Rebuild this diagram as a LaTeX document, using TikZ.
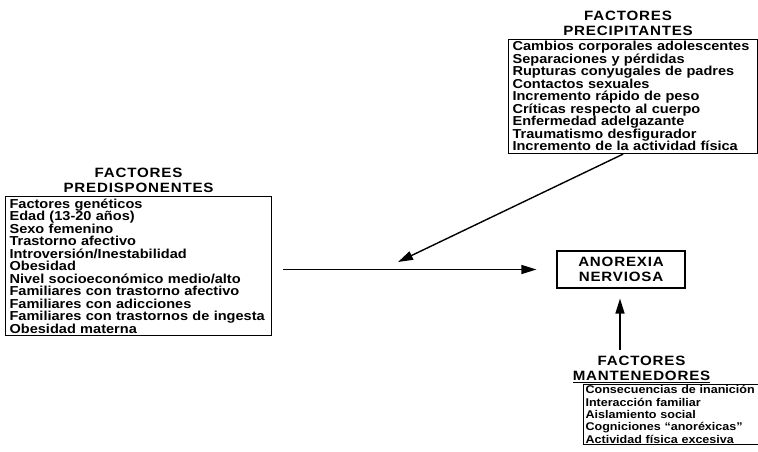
\documentclass[tikz,border=0pt]{standalone}
\usepackage{fontspec}
\usepackage{tikz}
\usetikzlibrary{positioning,calc,arrows.meta}
\newfontfamily\diagfam{Liberation Sans}[FakeStretch=1.12]
\newfontfamily\titlefam{Liberation Sans}[FakeStretch=1.12,LetterSpace=6]
\newcommand{\itemfont}{\diagfam\bfseries\fontsize{13}{12.5}\selectfont}
\newcommand{\smallitemfont}{\diagfam\bfseries\fontsize{11.2}{12.4}\selectfont}
\newcommand{\titlefont}{\titlefam\bfseries\fontsize{13.5}{15.5}\selectfont}

\begin{document}
\begin{tikzpicture}[x=1pt, y=-1pt,
  factbox/.style={draw, line width=1.1pt, anchor=north west, align=left, inner xsep=4pt, inner ysep=2pt, font=\itemfont},
  facttitle/.style={align=center, inner sep=0pt, font=\titlefont},
  flecha/.style={line width=1.4pt, -{Triangle[length=15pt,width=9pt]}}]
  \useasboundingbox (0,0) rectangle (758,452);

  % Factores predisponentes (left)
  \node[factbox, text width=258pt] (predis) at (5,196) {Factores genéticos\\
    Edad (13-20 años)\\
    Sexo femenino\\
    Trastorno afectivo\\
    Introversión/Inestabilidad\\
    Obesidad\\
    Nivel socioeconómico medio/alto\\
    Familiares con trastorno afectivo\\
    Familiares con adicciones\\
    Familiares con trastornos de ingesta\\
    Obesidad materna};
  \node[facttitle, above=3pt of predis] (tpredis) {FACTORES\\PREDISPONENTES};

  % Factores precipitantes (top right)
  \node[factbox, text width=241pt] (precip) at (508,39) {Cambios corporales adolescentes\\
    Separaciones y pérdidas\\
    Rupturas conyugales de padres\\
    Contactos sexuales\\
    Incremento rápido de peso\\
    Críticas respecto al cuerpo\\
    Enfermedad adelgazante\\
    Traumatismo desfigurador\\
    Incremento de la actividad física};
  \node[facttitle, above=3pt of precip, xshift=-5pt] (tprecip) {FACTORES\\PRECIPITANTES};

  % Anorexia nerviosa (centre)
  \node[draw, line width=1.1pt, minimum width=128pt, minimum height=37pt, font=\titlefont, align=center] (anorexia) at (621,269.5) {ANOREXIA\\NERVIOSA};

  % Factores mantenedores (bottom right)
  \node[factbox, font=\smallitemfont, inner xsep=2pt, inner ysep=1pt, text width=172pt] (mant) at (583,384) {Consecuencias de inanición\\
    Interacción familiar\\
    Aislamiento social\\
    Cogniciones “anoréxicas”\\
    Actividad física excesiva};
  \node[facttitle, above=1pt of mant, xshift=-30pt] (tmant) {FACTORES\\\underline{MANTENEDORES}};

  % Flechas
  \coordinate (cruce) at (398,262);
  \draw[flecha, shorten <=11pt, shorten >=20pt] (predis.east |- anorexia.west) -- (anorexia.west);
  \draw[flecha, shorten <=1pt] ([xshift=-9pt]precip.south) -- (cruce);
  \draw[flecha, shorten <=6pt, shorten >=10pt] ([xshift=-1pt]anorexia.south |- tmant.north) -- ([xshift=-1pt]anorexia.south);
\end{tikzpicture}
\end{document}
